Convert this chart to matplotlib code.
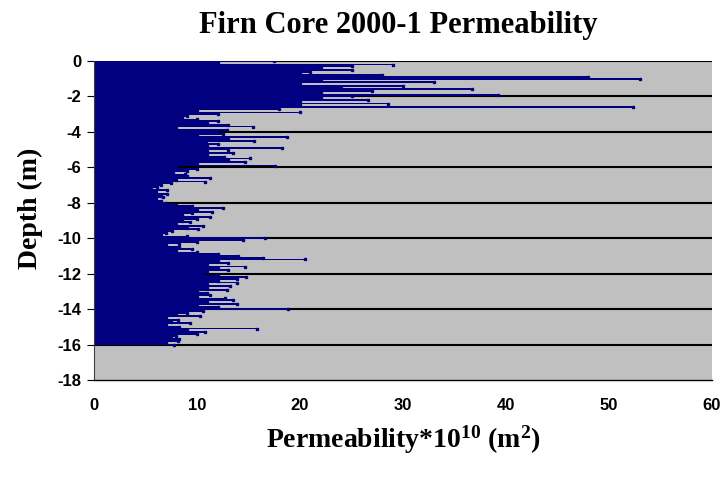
import numpy as np
import matplotlib
matplotlib.use("Agg")
import matplotlib.pyplot as plt

plt.rcParams["mathtext.fontset"] = "custom"
plt.rcParams["mathtext.rm"] = "Liberation Serif:bold"
plt.rcParams["mathtext.bf"] = "Liberation Serif:bold"
plt.rcParams["mathtext.it"] = "Liberation Serif:bold"

depth = [round(-0.1 * i, 1) for i in range(161)]
permeability = [
    17.5, 12, 29, 25, 22, 25, 21, 20, 28, 48,
    53, 22, 33, 20, 30, 24, 36.7, 27, 22, 39.2,
    25, 22, 26.6, 20, 28.5, 20, 52.3, 18, 10, 20,
    12, 9, 8.5, 10, 12, 11, 13, 15.4, 8, 12.9,
    11.9, 12.5, 10, 18.7, 13, 15.5, 10.9, 12, 11, 18.3,
    13, 11, 13.5, 11, 12.6, 15.1, 13, 14.7, 10, 17.6,
    8, 10, 9, 7.7, 8.8, 9, 11.3, 8, 10.8, 7.5,
    6.5, 6.1, 5.5, 7.1, 6, 7.1, 6.5, 6.7, 6, 6.5,
    7, 8, 9.5, 12.5, 10, 11.5, 9.5, 8.5, 11.3, 10,
    8.5, 9.3, 8, 10.6, 9, 10.1, 7.6, 7, 6.5, 9,
    16.6, 14.5, 10, 8.3, 7, 8.3, 9.5, 8, 10, 12,
    14, 16.4, 20.5, 12, 13, 11, 14.7, 12, 13, 11,
    10.5, 12, 14.8, 13.9, 12, 13.9, 11, 13.2, 11, 12.9,
    10, 11, 11.3, 10, 12.7, 13.5, 11, 13.9, 10, 12,
    18.8, 10.6, 9, 8, 10.3, 7, 8.2, 7.5, 9.3, 7,
    8.3, 15.8, 9, 10.8, 10, 8, 7.5, 8.3, 8.2, 7, 7.8,
]
x_ticks = [0, 10, 20, 30, 40, 50, 60]
y_ticks = [0, -2, -4, -6, -8, -10, -12, -14, -16, -18]

fig = plt.figure(figsize=(7.2, 4.83), dpi=100)
ax = fig.add_axes([94 / 720, 1 - 380 / 483, 618 / 720, 319 / 483])
ax.set_facecolor("#C0C0C0")

ax.barh(depth, permeability, height=0.1, color="#000080", linewidth=0, zorder=2)
ax.plot(permeability, depth, linestyle="none", marker="s", markersize=1.5,
        color="#000080", zorder=3)

ax.set_xlim(0, 60)
ax.set_ylim(-18, 0)
ax.set_xticks(x_ticks)
ax.set_yticks(y_ticks)
ax.set_yticklabels([str(t) for t in y_ticks])
for t in y_ticks[:-1]:
    ax.axhline(t, color="black", linewidth=1.5, zorder=1)

for s in ["top", "right"]:
    ax.spines[s].set_visible(False)
ax.spines["left"].set_color("#404040")
ax.spines["bottom"].set_color("black")
ax.spines["bottom"].set_linewidth(1.0)

ax.tick_params(axis="y", direction="out", length=5, pad=4)
ax.tick_params(axis="x", direction="out", length=0, pad=13)
for lab in ax.get_xticklabels() + ax.get_yticklabels():
    lab.set_fontfamily("Liberation Sans")
    lab.set_fontweight("bold")
    lab.set_fontsize(12)

serif = dict(family="Liberation Serif", weight="bold")
fig.text(398 / 720, 1 - 26 / 483, "Firn Core 2000-1 Permeability",
         ha="center", va="center", fontsize=22, **serif)
fig.text(30 / 720, 1 - 208 / 483, "Depth (m)", rotation=90,
         ha="center", va="center", fontsize=20, **serif)
fig.text(403 / 720, 1 - 440 / 483, r"Permeability*10$^{10}$ (m$^{2}$)",
         ha="center", va="center", fontsize=20, **serif)

fig.savefig("out.png", dpi=100)
